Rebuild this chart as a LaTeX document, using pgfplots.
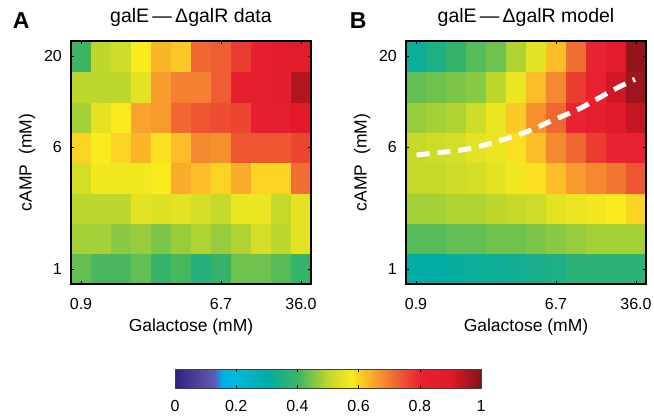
\documentclass[border=0pt]{standalone}
\usepackage{fontspec}
\setmainfont{Liberation Sans}
\usepackage{pgfplots}
\pgfplotsset{compat=1.18}

\pgfplotsset{
  colormap={galjet}{rgb255(0cm)=(45,35,135) rgb255(1cm)=(85,80,165) rgb255(1.3cm)=(90,95,180)
    rgb255(1.55cm)=(0,175,230) rgb255(2cm)=(0,185,220) rgb255(3cm)=(0,172,165)
    rgb255(4cm)=(60,180,100) rgb255(5cm)=(190,215,45) rgb255(5.8cm)=(250,235,30)
    rgb255(6.2cm)=(252,190,40) rgb255(7cm)=(242,120,50) rgb255(8cm)=(232,35,50)
    rgb255(9cm)=(225,25,40) rgb255(10cm)=(130,20,25)},
  heat/.style={
    scale only axis, width=240pt, height=243pt,
    xmin=-0.5, xmax=11.5, ymin=-0.5, ymax=7.5,
    enlargelimits=false, axis on top,
    xtick={0,7,11}, xticklabels={0.9,6.7,36.0},
    ytick={0,4,7}, yticklabels={1,6,20},
    tick align=inside, major tick length=3pt,
    tick style={black, line width=0.6pt},
    axis line style={black, line width=1.2pt},
    colormap name=galjet, point meta min=0, point meta max=1,
    /pgf/number format/assume math mode=true,
    ticklabel style={font=\fontsize{16}{18}\selectfont, inner sep=0pt},
    xticklabel style={anchor=base, yshift=-25pt},
    yticklabel style={anchor=east, xshift=-9pt},
    xlabel={Galactose (mM)}, ylabel={cAMP~~(mM)},
    label style={font=\fontsize{17.5}{20}\selectfont},
    xlabel style={at={(axis description cs:0.5,0)}, anchor=base, yshift=-47pt},
    ylabel style={at={(axis description cs:-0.183,0.5)}, anchor=center},
    title style={at={(axis description cs:0.5,1)}, anchor=base, yshift=12.7pt,
      font=\fontsize{19.5}{22}\selectfont},
  },
}

\begin{document}
\begin{tikzpicture}
\path[use as bounding box] (-71pt,-134pt) rectangle (583pt,284pt);

% panel A: measured
\begin{axis}[heat, name=A, at={(0pt,0pt)}, anchor=south west,
  title={galE\,—\,ΔgalR data},
]
\addplot[matrix plot*, mesh/cols=12, point meta=explicit] coordinates {
(0,0)[0.43] (1,0)[0.41] (2,0)[0.41] (3,0)[0.43] (4,0)[0.39] (5,0)[0.41] (6,0)[0.36] (7,0)[0.39] (8,0)[0.44] (9,0)[0.44] (10,0)[0.42] (11,0)[0.39]
(0,1)[0.48] (1,1)[0.48] (2,1)[0.46] (3,1)[0.47] (4,1)[0.45] (5,1)[0.47] (6,1)[0.49] (7,1)[0.47] (8,1)[0.49] (9,1)[0.53] (10,1)[0.50] (11,1)[0.55]
(0,2)[0.50] (1,2)[0.50] (2,2)[0.50] (3,2)[0.55] (4,2)[0.54] (5,2)[0.55] (6,2)[0.53] (7,2)[0.51] (8,2)[0.56] (9,2)[0.56] (10,2)[0.51] (11,2)[0.55]
(0,3)[0.53] (1,3)[0.57] (2,3)[0.57] (3,3)[0.57] (4,3)[0.58] (5,3)[0.64] (6,3)[0.62] (7,3)[0.60] (8,3)[0.64] (9,3)[0.60] (10,3)[0.60] (11,3)[0.71]
(0,4)[0.60] (1,4)[0.58] (2,4)[0.60] (3,4)[0.63] (4,4)[0.59] (5,4)[0.62] (6,4)[0.68] (7,4)[0.67] (8,4)[0.74] (9,4)[0.74] (10,4)[0.74] (11,4)[0.76]
(0,5)[0.48] (1,5)[0.55] (2,5)[0.58] (3,5)[0.65] (4,5)[0.66] (5,5)[0.72] (6,5)[0.74] (7,5)[0.75] (8,5)[0.76] (9,5)[0.84] (10,5)[0.84] (11,5)[0.90]
(0,6)[0.50] (1,6)[0.50] (2,6)[0.50] (3,6)[0.55] (4,6)[0.66] (5,6)[0.69] (6,6)[0.69] (7,6)[0.73] (8,6)[0.84] (9,6)[0.84] (10,6)[0.85] (11,6)[0.95]
(0,7)[0.40] (1,7)[0.50] (2,7)[0.52] (3,7)[0.58] (4,7)[0.63] (5,7)[0.61] (6,7)[0.72] (7,7)[0.73] (8,7)[0.77] (9,7)[0.83] (10,7)[0.86] (11,7)[0.86]
};
\end{axis}

% panel B: model
\begin{axis}[heat, name=B, at={(335pt,0pt)}, anchor=south west,
  title={galE\,—\,ΔgalR model},
]
\addplot[matrix plot*, mesh/cols=12, point meta=explicit] coordinates {
(0,0)[0.30] (1,0)[0.30] (2,0)[0.31] (3,0)[0.32] (4,0)[0.32] (5,0)[0.33] (6,0)[0.34] (7,0)[0.35] (8,0)[0.37] (9,0)[0.37] (10,0)[0.37] (11,0)[0.37]
(0,1)[0.42] (1,1)[0.42] (2,1)[0.43] (3,1)[0.43] (4,1)[0.44] (5,1)[0.44] (6,1)[0.45] (7,1)[0.46] (8,1)[0.47] (9,1)[0.48] (10,1)[0.48] (11,1)[0.48]
(0,2)[0.48] (1,2)[0.48] (2,2)[0.49] (3,2)[0.49] (4,2)[0.50] (5,2)[0.51] (6,2)[0.52] (7,2)[0.55] (8,2)[0.56] (9,2)[0.57] (10,2)[0.58] (11,2)[0.60]
(0,3)[0.51] (1,3)[0.51] (2,3)[0.52] (3,3)[0.53] (4,3)[0.55] (5,3)[0.57] (6,3)[0.59] (7,3)[0.62] (8,3)[0.66] (9,3)[0.68] (10,3)[0.70] (11,3)[0.74]
(0,4)[0.51] (1,4)[0.52] (2,4)[0.53] (3,4)[0.55] (4,4)[0.56] (5,4)[0.59] (6,4)[0.62] (7,4)[0.68] (8,4)[0.72] (9,4)[0.77] (10,4)[0.80] (11,4)[0.82]
(0,5)[0.47] (1,5)[0.48] (2,5)[0.49] (3,5)[0.52] (4,5)[0.56] (5,5)[0.61] (6,5)[0.67] (7,5)[0.72] (8,5)[0.80] (9,5)[0.84] (10,5)[0.88] (11,5)[0.93]
(0,6)[0.43] (1,6)[0.44] (2,6)[0.45] (3,6)[0.46] (4,6)[0.50] (5,6)[0.56] (6,6)[0.62] (7,6)[0.68] (8,6)[0.77] (9,6)[0.82] (10,6)[0.92] (11,6)[0.97]
(0,7)[0.32] (1,7)[0.35] (2,7)[0.39] (3,7)[0.42] (4,7)[0.44] (5,7)[0.49] (6,7)[0.55] (7,7)[0.62] (8,7)[0.71] (9,7)[0.80] (10,7)[0.87] (11,7)[0.98]
};
\addplot[white, line width=5pt, dash pattern=on 13pt off 8pt, smooth] coordinates {
(0.03,3.75) (2.45,3.93) (4.03,4.19) (5.53,4.51) (6.87,4.90) (8.2,5.28) (9.87,5.89) (10.95,6.24)
};
\end{axis}

% colour scale
\begin{axis}[at={(104pt,-85pt)}, anchor=north west,
  scale only axis, width=306pt, height=19pt,
  xmin=0, xmax=1, ymin=0, ymax=1, enlargelimits=false, axis on top,
  xtick={0,0.2,0.4,0.6,0.8,1}, ytick=\empty,
  colormap name=galjet, point meta min=0, point meta max=1,
  /pgf/number format/assume math mode=true,
  xticklabel style={font=\fontsize{16}{18}\selectfont, anchor=base, inner sep=0pt, yshift=-23.4pt},
  tick align=inside, major tick length=3pt, xtick pos=both, xticklabel pos=lower,
  tick style={black, line width=0.6pt},
  axis line style={darkgray, line width=0.6pt},
]
\addplot[surf, shader=interp, mesh/rows=2, point meta=x] coordinates {
(0,0) (0.1,0) (0.13,0) (0.155,0) (0.2,0) (0.3,0) (0.4,0) (0.5,0) (0.58,0) (0.62,0) (0.7,0) (0.8,0) (0.9,0) (1,0)
(0,1) (0.1,1) (0.13,1) (0.155,1) (0.2,1) (0.3,1) (0.4,1) (0.5,1) (0.58,1) (0.62,1) (0.7,1) (0.8,1) (0.9,1) (1,1)
};
\end{axis}

\node[anchor=base west, inner sep=0pt, font=\fontsize{23}{25}\selectfont\bfseries]
  at ([xshift=-58.3pt, yshift=12.7pt]A.north west) {A};
\node[anchor=base west, inner sep=0pt, font=\fontsize{23}{25}\selectfont\bfseries]
  at ([xshift=-56.3pt, yshift=12.7pt]B.north west) {B};
\end{tikzpicture}
\end{document}
